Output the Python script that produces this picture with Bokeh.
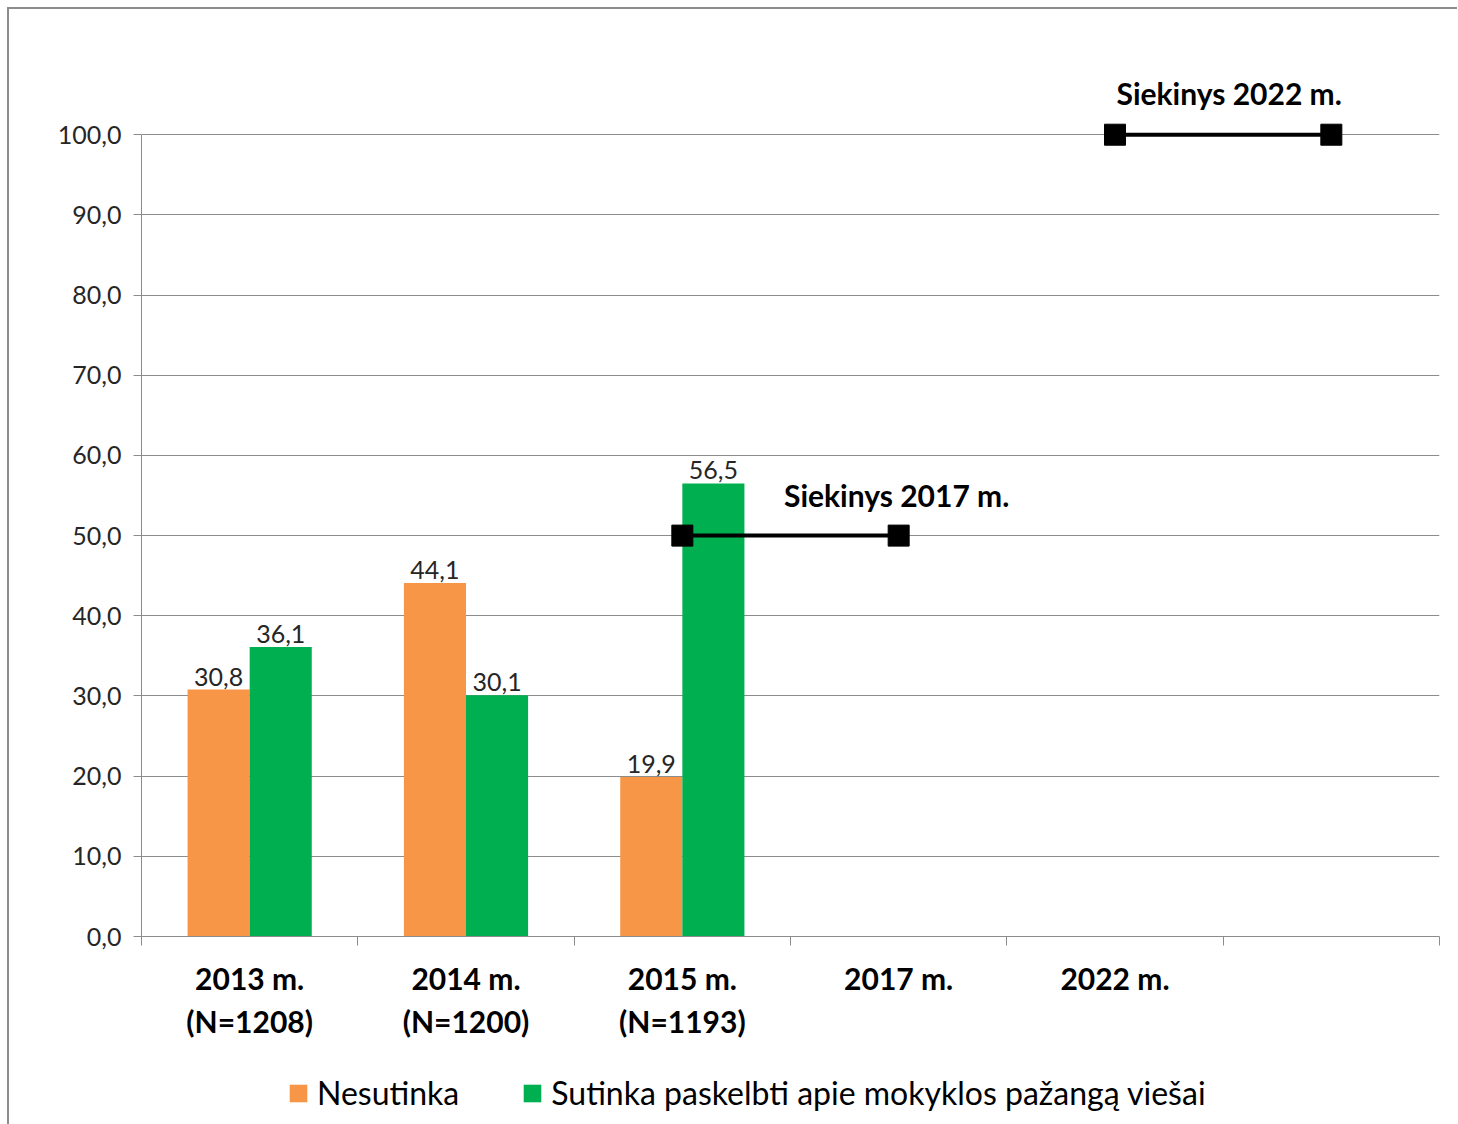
from bokeh.plotting import figure
from bokeh.layouts import column
from bokeh.models import (ColumnDataSource, FixedTicker, LabelSet, Label, Legend, LegendItem, Range1d)
from bokeh.core.properties import value
from bokeh.embed import file_html
from bokeh.resources import INLINE

# ---- data ----
categories = ["2013 m.\n(N=1208)", "2014 m.\n(N=1200)", "2015 m.\n(N=1193)", "2017 m.", "2022 m.", ""]
bar_cats = [0, 1, 2]
nesutinka = [30.8, 44.1, 19.9]
sutinka = [36.1, 30.1, 56.5]
target_2017_cats = [2, 3]
target_2017_vals = [50.0, 50.0]
target_2022_cats = [4, 5]
target_2022_vals = [100.0, 100.0]
y_ticks = [0, 10, 20, 30, 40, 50, 60, 70, 80, 90, 100]
series_names = ["Nesutinka", "Sutinka paskelbti apie mokyklos pažangą viešai"]

FONT = "Lato"
ORANGE = "#F79646"
GREEN = "#00B050"
GRID = "#8C8C8C"

W = 62 / 216  # bar width in category units

def fmt(v):
    return f"{v:.1f}".replace(".", ",")

xo = [c + 0.5 - W / 2 for c in bar_cats]
xg = [c + 0.5 + W / 2 for c in bar_cats]
src_o = ColumnDataSource(dict(x=xo, top=nesutinka, lab=[fmt(v) for v in nesutinka]))
src_g = ColumnDataSource(dict(x=xg, top=sutinka, lab=[fmt(v) for v in sutinka]))

p = figure(frame_width=1296, frame_height=895, output_backend="svg", toolbar_location=None,
           x_range=Range1d(0, len(categories)), y_range=Range1d(0, 111.875),
           min_border_left=132, min_border_right=20, min_border_top=30, min_border_bottom=120)
p.styles = {"border-left": "2px solid #8C8C8C", "border-top": "2px solid #8C8C8C",
            "margin-left": "7px", "margin-top": "7px"}
p.outline_line_color = None
p.background_fill_color = "white"
p.border_fill_color = "white"

ro = p.vbar(x="x", top="top", width=W, source=src_o, fill_color=ORANGE, line_color=None)
rg = p.vbar(x="x", top="top", width=W, source=src_g, fill_color=GREEN, line_color=None)

for s in (src_o, src_g):
    p.add_layout(LabelSet(x="x", y="top", text="lab", source=s, text_align="center",
                          text_baseline="bottom", y_offset=4, text_font=value(FONT),
                          text_font_size="25px", text_color="#262626"))

for cats, vals in ((target_2017_cats, target_2017_vals), (target_2022_cats, target_2022_vals)):
    xs = [c + 0.5 for c in cats]
    p.line(xs, vals, line_color="black", line_width=4)
    p.scatter(xs, vals, marker="square", size=21, fill_color="black", line_color="black")

p.add_layout(Label(x=target_2017_cats[1] + 0.5, y=target_2017_vals[1], text="Siekinys 2017 m.",
                   text_align="center", text_baseline="middle", x_offset=-2, y_offset=41,
                   text_font=FONT, text_font_size="30px", text_font_style="bold", text_color="black"))
p.add_layout(Label(x=(target_2022_cats[0] + target_2022_cats[1]) / 2 + 0.5, y=target_2022_vals[1],
                   text="Siekinys 2022 m.", text_align="center", text_baseline="middle",
                   x_offset=6, y_offset=42, text_font=FONT, text_font_size="30px",
                   text_font_style="bold", text_color="black"))

# axes
p.yaxis.ticker = FixedTicker(ticks=y_ticks, minor_ticks=[])
p.yaxis.bounds = (0, 100)
p.yaxis.major_label_overrides = {t: fmt(t) for t in y_ticks}
p.yaxis.major_label_text_font = FONT
p.yaxis.major_label_text_font_size = "25px"
p.yaxis.major_label_text_color = "#262626"
p.yaxis.major_label_standoff = 12
p.yaxis.major_tick_out = 8
p.yaxis.major_tick_in = 0
p.yaxis.axis_line_color = GRID
p.yaxis.major_tick_line_color = GRID

centers = [i + 0.5 for i in range(len(categories))]
p.xaxis.ticker = FixedTicker(ticks=centers, minor_ticks=list(range(len(categories) + 1)))
p.xaxis.major_label_overrides = {c: lab for c, lab in zip(centers, categories)}
p.xaxis.major_tick_out = 0
p.xaxis.major_tick_in = 0
p.xaxis.minor_tick_out = 9
p.xaxis.minor_tick_in = 0
p.xaxis.minor_tick_line_color = GRID
p.xaxis.axis_line_color = GRID
p.xaxis.major_label_text_font = FONT
p.xaxis.major_label_text_font_size = "30px"
p.xaxis.major_label_text_font_style = "bold"
p.xaxis.major_label_text_color = "black"
p.xaxis.major_label_standoff = 14

p.xgrid.grid_line_color = None
p.ygrid.grid_line_color = GRID
p.ygrid.grid_line_width = 1

# legend strip below the chart (proxy bars lie outside its visible range)
p2 = figure(width=1448, height=70, output_backend="svg", toolbar_location=None,
            x_range=Range1d(100, 101), y_range=Range1d(100, 101),
            x_axis_location=None, y_axis_location=None, min_border=0)
p2.styles = {"border-left": "2px solid #8C8C8C", "margin-left": "7px"}
p2.grid.visible = False
p2.outline_line_color = None
lo = p2.vbar(x=[0], top=[nesutinka[0]], width=W, fill_color=ORANGE, line_color=None)
lg = p2.vbar(x=[0], top=[sutinka[0]], width=W, fill_color=GREEN, line_color=None)
legend = Legend(items=[LegendItem(label=series_names[0], renderers=[lo]),
                       LegendItem(label=series_names[1], renderers=[lg])],
                orientation="horizontal", location=(146, 12), label_text_font=FONT,
                label_text_font_size="32px", label_text_color="black",
                glyph_width=22, glyph_height=22, spacing=62, label_standoff=8,
                border_line_color=None, background_fill_alpha=0, margin=0, padding=10)
p2.add_layout(legend)

layout = column(p, p2, spacing=0)
open("out.html", "w").write(file_html(layout, INLINE))
